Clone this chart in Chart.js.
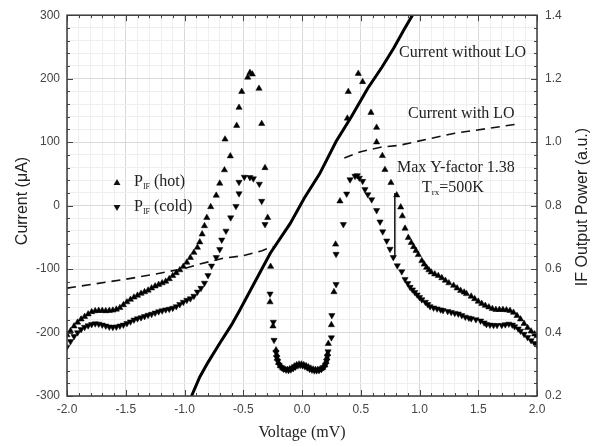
<!DOCTYPE html>
<html><head><meta charset="utf-8">
<script src="https://cdn.jsdelivr.net/npm/chart.js@4.4.1/dist/chart.umd.min.js"></script>
<style>html,body{margin:0;padding:0;background:#fff}#wrap{width:608px;height:447px}</style>
</head><body><div id="wrap"><canvas id="c" width="608" height="447"></canvas></div>
<script>
// ---- data (Voltage in mV, Current in uA, IF power in a.u.) ----
const noLoV = [-0.94,-0.87,-0.80,-0.70,-0.60,-0.53,-0.40,-0.27,-0.10,0.02,0.15,0.29,0.42,0.56,0.68,0.78,0.87,0.94];
const noLoI = [-300,-270,-247,-217,-188,-165,-120,-75,-28,12,50,101,140,185,218,248,278,300];

const withLoV = [-2.0,-1.75,-1.5,-1.25,-1.0,-0.87,-0.67,-0.5,-0.34,-0.25,0.05,0.36,0.5,0.67,0.83,1.0,1.3,1.6,1.85];
const withLoI = [-130,-123,-116,-108,-99,-92,-83,-79,-71,-64,null,75,85,92,95,102,114,122,129];

const hotV = [-2.00,-1.97,-1.94,-1.91,-1.88,-1.85,-1.82,-1.79,-1.76,-1.73,-1.70,-1.67,-1.64,-1.61,-1.58,-1.55,-1.52,-1.49,-1.46,-1.43,-1.40,-1.37,-1.34,-1.31,-1.28,-1.25,-1.22,-1.19,-1.16,-1.13,-1.10,-1.07,-1.04,-1.01,-0.98,-0.95,-0.92,-0.89,-0.87,-0.85,-0.83,-0.81,-0.777,-0.73,-0.70,-0.66,-0.61,-0.655,-0.556,-0.536,-0.513,-0.462,-0.443,-0.423,-0.366,-0.343,-0.315,-0.292,-0.267,-0.272,-0.247,-0.221,
 -0.215,-0.210,-0.200,-0.185,-0.165,-0.145,-0.125,-0.105,-0.085,-0.065,-0.045,-0.025,-0.005,0.015,0.035,0.055,0.075,0.095,0.115,0.135,0.155,0.175,0.195,0.205,0.212,0.218,0.224,
 0.25,0.272,0.286,0.323,0.386,0.394,0.479,0.516,0.587,0.635,0.635,0.684,0.706,0.757,0.806,0.840,0.854,0.877,0.905,0.93,0.95,0.97,0.99,1.02,1.04,1.06,1.08,1.10,1.13,1.16,1.19,1.22,1.25,1.29,1.32,1.35,1.38,1.40,1.44,1.47,1.50,1.53,1.56,1.59,1.62,1.65,1.68,1.71,1.74,1.77,1.80,1.83,1.86,1.89,1.92,1.95,1.98,2.00];
const hotP = [0.392,0.405,0.420,0.432,0.442,0.450,0.458,0.465,0.468,0.469,0.469,0.468,0.469,0.470,0.473,0.478,0.487,0.496,0.504,0.511,0.517,0.523,0.528,0.533,0.540,0.546,0.551,0.556,0.561,0.569,0.579,0.588,0.597,0.608,0.621,0.636,0.652,0.668,0.685,0.710,0.736,0.762,0.796,0.832,0.870,0.912,0.956,1.009,1.052,1.109,1.159,1.204,1.219,1.214,1.169,1.058,0.919,0.762,0.608,0.496,0.420,0.345,
 0.330,0.318,0.305,0.295,0.288,0.284,0.283,0.285,0.289,0.294,0.298,0.300,0.300,0.298,0.295,0.291,0.287,0.284,0.283,0.283,0.285,0.289,0.297,0.308,0.320,0.333,0.365,
 0.424,0.528,0.678,0.814,1.075,1.159,1.216,1.190,1.093,1.046,1.000,0.957,0.913,0.872,0.833,0.795,0.767,0.728,0.699,0.683,0.670,0.658,0.645,0.626,0.615,0.605,0.597,0.590,0.584,0.579,0.572,0.564,0.556,0.548,0.540,0.532,0.527,0.522,0.514,0.506,0.498,0.491,0.485,0.480,0.475,0.472,0.472,0.472,0.471,0.469,0.463,0.453,0.442,0.428,0.415,0.404,0.395,0.390];

const coldV = [-2.00,-1.97,-1.94,-1.91,-1.88,-1.85,-1.82,-1.79,-1.76,-1.73,-1.70,-1.67,-1.64,-1.61,-1.58,-1.55,-1.52,-1.49,-1.46,-1.43,-1.40,-1.37,-1.34,-1.31,-1.28,-1.25,-1.22,-1.19,-1.16,-1.13,-1.10,-1.07,-1.04,-1.01,-0.98,-0.95,-0.92,-0.89,-0.86,-0.83,-0.80,-0.77,-0.73,-0.70,-0.683,-0.647,-0.607,-0.562,-0.536,-0.536,-0.491,-0.443,-0.414,-0.363,-0.343,-0.315,-0.272,-0.244,-0.238,
 -0.222,-0.216,-0.208,-0.195,-0.175,-0.155,-0.135,-0.115,-0.095,-0.075,-0.055,-0.035,-0.015,0.005,0.025,0.045,0.065,0.085,0.105,0.125,0.145,0.165,0.185,0.200,0.210,0.216,0.222,
 0.250,0.254,0.290,0.290,0.352,0.380,0.409,0.451,0.470,0.488,0.516,0.536,0.560,0.593,0.635,0.664,0.687,0.721,0.749,0.777,0.811,0.849,0.877,0.90,0.92,0.94,0.96,0.98,1.00,1.02,1.05,1.07,1.09,1.12,1.15,1.18,1.20,1.24,1.27,1.30,1.33,1.36,1.39,1.42,1.44,1.48,1.52,1.55,1.57,1.60,1.63,1.66,1.70,1.73,1.76,1.79,1.81,1.84,1.86,1.89,1.92,1.95,1.98,2.00];
const coldP = [0.355,0.372,0.388,0.400,0.410,0.417,0.422,0.426,0.428,0.427,0.424,0.421,0.418,0.417,0.418,0.421,0.424,0.429,0.434,0.440,0.444,0.447,0.451,0.455,0.458,0.462,0.466,0.469,0.472,0.474,0.477,0.482,0.489,0.496,0.502,0.507,0.515,0.528,0.540,0.556,0.580,0.610,0.637,0.662,0.692,0.720,0.762,0.798,0.838,0.874,0.890,0.889,0.885,0.868,0.814,0.741,0.522,0.433,0.376,
 0.338,0.322,0.310,0.298,0.290,0.285,0.282,0.281,0.283,0.287,0.292,0.296,0.297,0.296,0.293,0.289,0.285,0.282,0.280,0.280,0.281,0.284,0.290,0.298,0.310,0.324,0.340,
 0.384,0.454,0.552,0.647,0.741,0.837,0.882,0.893,0.895,0.887,0.877,0.851,0.835,0.819,0.785,0.749,0.718,0.689,0.663,0.637,0.611,0.592,0.568,0.555,0.543,0.535,0.527,0.519,0.511,0.504,0.496,0.489,0.482,0.478,0.475,0.472,0.470,0.467,0.464,0.461,0.459,0.454,0.449,0.446,0.444,0.441,0.437,0.431,0.426,0.424,0.423,0.423,0.423,0.425,0.427,0.424,0.419,0.412,0.405,0.395,0.385,0.375,0.366,0.360];

const markV = [0.79,0.79];
const markP = [0.84,0.637];

const xTickLabels = ['-2.0','-1.5','-1.0','-0.5','0.0','0.5','1.0','1.5','2.0'];
const yTickLabels = ['-300','-200','-100','0','100','200','300'];
const y1TickLabels = ['0.2','0.4','0.6','0.8','1.0','1.2','1.4'];

// ---- helpers ----
const pts = (xs, ys) => xs.map((v,i)=>({x:v, y:ys[i]}));
const near = (v, step) => Math.abs(v/step - Math.round(v/step)) < 1e-6;
const majorGrid = '#d9d9d9', minorGrid = '#efefef';
const tickFont = {family:'"Liberation Sans", Arial, sans-serif', size:12};

const decor = {
  id:'decor',
  afterDatasetsDraw(chart){
    const {ctx, chartArea:a, scales:{x,y,y1}} = chart;
    ctx.save();
    // inward ticks
    ctx.strokeStyle='#444'; ctx.lineWidth=1;
    ctx.beginPath();
    x.ticks.forEach(t=>{
      const px=Math.round(x.getPixelForValue(t.value))+0.5;
      const L = near(t.value,0.5)?6:3;
      ctx.moveTo(px,a.bottom); ctx.lineTo(px,a.bottom-L);
      ctx.moveTo(px,a.top); ctx.lineTo(px,a.top+L);
    });
    y.ticks.forEach(t=>{
      const py=Math.round(y.getPixelForValue(t.value))+0.5;
      const L = near(t.value,100)?6:3;
      ctx.moveTo(a.left,py); ctx.lineTo(a.left+L,py);
    });
    y1.ticks.forEach(t=>{
      const py=Math.round(y1.getPixelForValue(t.value))+0.5;
      const L = near(t.value,0.2)?6:3;
      ctx.moveTo(a.right,py); ctx.lineTo(a.right-L,py);
    });
    ctx.stroke();
    // frame
    ctx.strokeStyle='#3a3a3a'; ctx.lineWidth=1.5;
    ctx.strokeRect(a.left,a.top,a.right-a.left,a.bottom-a.top);

    // texts
    ctx.fillStyle='#222';
    const serif = s => s+'px "Liberation Serif", "Times New Roman", serif';
    const sans = s => s+'px "Liberation Sans", Arial, sans-serif';
    ctx.textBaseline='middle';
    ctx.font=serif(16); ctx.textAlign='left';
    ctx.fillText('Current without LO',399,53);
    ctx.fillText('Current with LO',408,114);
    ctx.fillText('Max Y-factor 1.38',397,168);
    // T_rx=500K
    let tx=422;
    ctx.fillText('T',tx,188); tx+=ctx.measureText('T').width;
    ctx.font=serif(9); ctx.fillText('rx',tx,193); tx+=ctx.measureText('rx').width;
    ctx.font=serif(16); ctx.fillText('=500K',tx,188);

    // legend
    const tri = (cx,cy,r,down) => {
      ctx.beginPath();
      const s = down?-1:1;
      ctx.moveTo(cx, cy - s*r);
      ctx.lineTo(cx + r*0.866, cy + s*r*0.5);
      ctx.lineTo(cx - r*0.866, cy + s*r*0.5);
      ctx.closePath(); ctx.fill();
    };
    ctx.fillStyle='#111';
    tri(117,183,4,false); tri(117,207,4,true);
    ctx.fillStyle='#222';
    const legendRow = (yy, label) => {
      let lx=134;
      ctx.font=serif(16); ctx.fillText('P',lx,yy); lx+=ctx.measureText('P').width;
      ctx.font=serif(8); ctx.fillText('IF',lx,yy+5); lx+=ctx.measureText('IF').width+4;
      ctx.font=serif(16); ctx.fillText(label,lx,yy);
    };
    legendRow(182,'(hot)');
    legendRow(207,'(cold)');

    // axis titles
    ctx.textAlign='center';
    ctx.font=serif(16);
    ctx.fillText('Voltage (mV)',302,433);
    ctx.save(); ctx.translate(23,201); ctx.rotate(-Math.PI/2);
    ctx.font=sans(16); ctx.fillText('Current (\u03bcA)',0,0); ctx.restore();
    ctx.save(); ctx.translate(583,207); ctx.rotate(-Math.PI/2);
    ctx.font=sans(16); ctx.fillText('IF Output Power (a.u.)',0,0); ctx.restore();
    ctx.restore();
  }
};

new Chart(document.getElementById('c'), {
  type:'scatter',
  data:{datasets:[
    {label:'Current without LO', data:pts(noLoV,noLoI), yAxisID:'y', showLine:true, borderColor:'#000', borderWidth:3, pointRadius:0, tension:0},
    {label:'Current with LO', data:pts(withLoV,withLoI), yAxisID:'y', showLine:true, spanGaps:false, borderColor:'#111', borderWidth:1.6, borderDash:[9,6], pointRadius:0},
    {label:'Marker', data:pts(markV,markP), yAxisID:'y1', showLine:true, borderColor:'#111', borderWidth:1.5, pointRadius:0},
    {label:'P_IF (hot)', data:pts(hotV,hotP), yAxisID:'y1', pointStyle:'triangle', pointRadius:3.6, backgroundColor:'#000', borderColor:'#000', borderWidth:0.5},
    {label:'P_IF (cold)', data:pts(coldV,coldP), yAxisID:'y1', pointStyle:'triangle', rotation:180, pointRadius:3.6, backgroundColor:'#000', borderColor:'#000', borderWidth:0.5}
  ]},
  options:{
    responsive:false, animation:false, devicePixelRatio:1,
    layout:{padding:{top:13,left:0,right:0,bottom:0}},
    plugins:{legend:{display:false}, tooltip:{enabled:false}},
    scales:{
      x:{type:'linear', min:-2, max:2, position:'bottom',
         afterFit:s=>{s.height=51;},
         ticks:{stepSize:0.1, autoSkip:false, maxRotation:0, padding:6, color:'#444', font:tickFont,
                callback:v=> near(v,0.5) ? xTickLabels[Math.round((v+2)*2)] : ''},
         grid:{drawTicks:false, color:c=> (c.tick && near(c.tick.value,0.5)) ? majorGrid : minorGrid, lineWidth:1},
         border:{display:false}},
      y:{type:'linear', min:-300, max:300, position:'left',
         afterFit:s=>{s.width=67;},
         ticks:{stepSize:20, autoSkip:false, padding:7, color:'#444', font:tickFont,
                callback:v=> near(v,100) ? yTickLabels[Math.round((v+300)/100)] : ''},
         grid:{drawTicks:false, color:c=> (c.tick && near(c.tick.value,100)) ? majorGrid : minorGrid, lineWidth:1},
         border:{display:false}},
      y1:{type:'linear', min:0.2, max:1.4, position:'right',
         afterFit:s=>{s.width=71;},
         ticks:{stepSize:0.04, autoSkip:false, padding:8, color:'#444', font:tickFont,
                callback:v=> near(v,0.2) ? y1TickLabels[Math.round((v-0.2)/0.2)] : ''},
         grid:{display:false, drawTicks:false},
         border:{display:false}}
    }
  },
  plugins:[decor]
});
</script>
</body></html>
